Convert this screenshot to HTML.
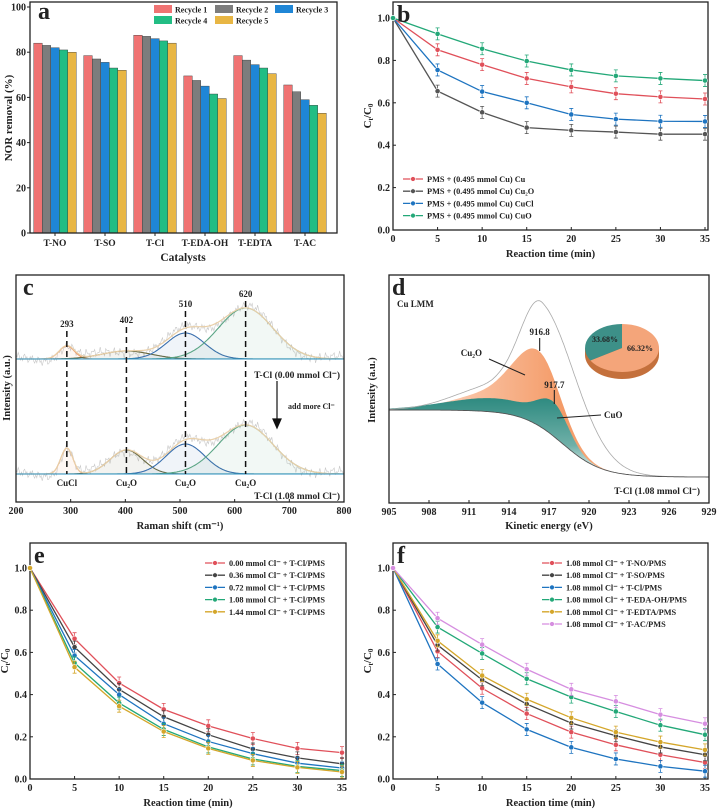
<!DOCTYPE html>
<html><head><meta charset="utf-8">
<style>
html,body{margin:0;padding:0;background:#fff;}
svg{display:block;font-family:"Liberation Serif",serif;font-weight:bold;}
</style></head>
<body>
<svg id="fig" width="717" height="811" viewBox="0 0 717 811" xmlns="http://www.w3.org/2000/svg">
<defs>
<linearGradient id="gOr" x1="0" y1="0" x2="1" y2="0">
<stop offset="0" stop-color="#fde3d5"/><stop offset="0.55" stop-color="#f49a66"/><stop offset="0.75" stop-color="#f7b890"/><stop offset="1" stop-color="#ffffff"/></linearGradient>
<linearGradient id="gTe" x1="0" y1="0" x2="0" y2="1">
<stop offset="0" stop-color="#2e8a80"/><stop offset="0.6" stop-color="#6fb0a8"/><stop offset="1" stop-color="#ffffff"/></linearGradient>
</defs>
</svg>
<script>
const NS="http://www.w3.org/2000/svg";
const svg=document.getElementById('fig');
function mk(tag,attrs,parent){const e=document.createElementNS(NS,tag);for(const k in attrs)e.setAttribute(k,attrs[k]);(parent||svg).appendChild(e);return e;}
function txt(x,y,s,size,anchor,name,extra){const t=mk('text',Object.assign({x:x,y:y,'font-size':size,'text-anchor':anchor||'middle',fill:'#222'},extra||{}));t.textContent=s;


return t;}

/* ===== Panel a data ===== */
const aCategories=["T-NO","T-SO","T-Cl","T-EDA-OH","T-EDTA","T-AC"];
const aSeriesNames=["Recycle 1","Recycle 2","Recycle 3","Recycle 4","Recycle 5"];
const aRecycle1=[84,78.5,87.5,69.5,78.5,65.5];
const aRecycle2=[83,77,87,67.5,76.5,62.5];
const aRecycle3=[82,75.5,86,65,74.5,59];
const aRecycle4=[81,73,85,61.5,73,56.5];
const aRecycle5=[80,72,84,59.5,70.5,53];
const aTicks=[0,20,40,60,80,100];

/* ===== Panel b data ===== */
const times=[0,5,10,15,20,25,30,35];
const bNames=["PMS + (0.495 mmol Cu) Cu","PMS + (0.495 mmol Cu) Cu\u2082O","PMS + (0.495 mmol Cu) CuCl","PMS + (0.495 mmol Cu) CuO"];
const bCu=[1,0.85,0.78,0.715,0.675,0.643,0.628,0.618];
const bCu2O=[1,0.655,0.555,0.483,0.47,0.462,0.452,0.452];
const bCuCl=[1,0.755,0.653,0.6,0.545,0.523,0.513,0.512];
const bCuO=[1,0.925,0.855,0.797,0.755,0.727,0.715,0.705];
const cTicks=[0,0.2,0.4,0.6,0.8,1.0];
const tTicks=[0,5,10,15,20,25,30,35];

/* ===== Panel e data ===== */
const eNames=["0.00 mmol Cl\u207B + T-Cl/PMS","0.36 mmol Cl\u207B + T-Cl/PMS","0.72 mmol Cl\u207B + T-Cl/PMS","1.08 mmol Cl\u207B + T-Cl/PMS","1.44 mmol Cl\u207B + T-Cl/PMS"];
const e000=[1,0.665,0.455,0.33,0.252,0.192,0.145,0.125];
const e036=[1,0.625,0.425,0.295,0.21,0.142,0.1,0.072];
const e072=[1,0.585,0.4,0.262,0.178,0.12,0.075,0.052];
const e108=[1,0.55,0.36,0.235,0.152,0.095,0.06,0.04];
const e144=[1,0.53,0.345,0.225,0.145,0.088,0.055,0.033];

/* ===== Panel f data ===== */
const fNames=["1.08 mmol Cl\u207B + T-NO/PMS","1.08 mmol Cl\u207B + T-SO/PMS","1.08 mmol Cl\u207B + T-Cl/PMS","1.08 mmol Cl\u207B + T-EDA-OH/PMS","1.08 mmol Cl\u207B + T-EDTA/PMS","1.08 mmol Cl\u207B + T-AC/PMS"];
const fNO=[1,0.605,0.43,0.31,0.222,0.162,0.115,0.078];
const fSO=[1,0.635,0.47,0.355,0.265,0.205,0.152,0.115];
const fCl=[1,0.545,0.362,0.235,0.15,0.095,0.06,0.037];
const fEDA=[1,0.72,0.595,0.475,0.388,0.32,0.255,0.21];
const fEDTA=[1,0.655,0.49,0.378,0.29,0.222,0.175,0.138];
const fAC=[1,0.762,0.637,0.52,0.425,0.368,0.305,0.262];

/* ===== Panel c data (Raman peak fits) ===== */
const cCenters=[293,402,510,620];
const cTopAmps=[13,8,26,51];
const cTopSigmas=[14,45,35,50];
const cBotAmps=[26,24,30,49];
const cBotSigmas=[11,30,35,50];
const ramanTicks=[200,300,400,500,600,700,800];

/* ===== Panel d data ===== */
const dTicks=[905,908,911,914,917,920,923,926,929];
const dPie=[66.32,33.68];

/* ---------- Panel a ---------- */
(function(){
 const g=mk('g',{});
 
 
 const L=30,R=337,T=2,B=233;
 const ya=v=>B-v/100*226;
 const xa=(gi,bi)=>55+50*gi+(bi-2)*8.5;
 const colors=["#f07373","#7d7d7d","#1f86d6","#22bd84","#e8b644"];
 const series=[aRecycle1,aRecycle2,aRecycle3,aRecycle4,aRecycle5];
 series.forEach((s,bi)=>{s.forEach((v,gi)=>{
   const r=mk('rect',{x:xa(gi,bi)-4.25,y:ya(v),width:8.5,height:B-ya(v),fill:colors[bi],stroke:'#333','stroke-width':0.4},g);
   
   
 });});
 const box=mk('rect',{x:L,y:T,width:R-L,height:B-T,fill:'none',stroke:'#222','stroke-width':1.3},g);
 
 
 aTicks.forEach(v=>{mk('line',{x1:L-3,x2:L,y1:ya(v),y2:ya(v),stroke:'#222'},g);txt(L-4,ya(v)+3.5,String(v),10,'end','y-tick-a-'+v);});
 aCategories.forEach((c,gi)=>{mk('line',{x1:55+50*gi,x2:55+50*gi,y1:B,y2:B+3,stroke:'#222'},g);txt(55+50*gi,B+13,c,9.5,'middle','x-tick-a-'+c.toLowerCase());});
 txt(183,261,'Catalysts',11.5,'middle','x-axis-title-a');
 txt(12,118,'NOR removal (%)',11,'middle','y-axis-title-a',{transform:'rotate(-90 12 118)'});
 txt(38,19,'a',24,'start','panel-label-a');
 const lp=[[154,5],[215,5],[275,5],[154,16],[215,16]];
 aSeriesNames.forEach((n,i)=>{const r=mk('rect',{x:lp[i][0],y:lp[i][1],width:18,height:8,fill:colors[i]},g);
   
   
   txt(lp[i][0]+21,lp[i][1]+7.5,n,8,'start','legend-entry-recycle-'+(i+1));});
})();

/* ---------- line chart helper ---------- */
function lineChart(o){
 const {L,R,T,B,x35,y1,series,colors,names,label,legX,legY,legStep,id}=o;
 const g=mk('g',{});
 
 
 const xs=t=>L+t/35*(x35-L);
 const ys=v=>B-v*(B-y1);
 const box=mk('rect',{x:L,y:T,width:R-L,height:B-T,fill:'none',stroke:'#222','stroke-width':1.3},g);
 
 
 cTicks.forEach(v=>{mk('line',{x1:L,x2:L+3,y1:ys(v),y2:ys(v),stroke:'#222'},g);txt(L-3,ys(v)+3.5,v.toFixed(1),10,'end','y-tick-'+id+'-'+v);});
 tTicks.forEach(v=>{mk('line',{x1:xs(v),x2:xs(v),y1:B,y2:B-3,stroke:'#222'},g);txt(xs(v),B+12,String(v),10,'middle','x-tick-'+id+'-'+v);});
 txt((L+R)/2,B+27,'Reaction time (min)',10.5,'middle','x-axis-title-'+id);
 const yt=txt(L-22,(T+B)/2,'C',11,'middle','y-axis-title-'+id,{transform:'rotate(-90 '+(L-22)+' '+((T+B)/2)+')'});
 yt.innerHTML='C<tspan font-size="7" dy="2">t</tspan><tspan dy="-2">/C</tspan><tspan font-size="7" dy="2">0</tspan>';
 series.forEach((s,si)=>{
   const c=colors[si];
   const pts=s.map((v,i)=>xs(times[i])+','+ys(v)).join(' ');
   const pl=mk('polyline',{points:pts,fill:'none',stroke:c,'stroke-width':1.3},g);
   
   
   s.forEach((v,i)=>{
     if(i>0){const eb=mk('path',{d:`M${xs(times[i])} ${ys(v)-6}V${ys(v)+6}M${xs(times[i])-2} ${ys(v)-6}h4M${xs(times[i])-2} ${ys(v)+6}h4`,stroke:c,'stroke-width':0.8,fill:'none'},g);
       
       }
     const p=mk('circle',{cx:xs(times[i]),cy:ys(v),r:2.6,fill:c,stroke:'#fff','stroke-width':0.6},g);
     
     
   });
   const ly=legY+si*legStep;
   const ll=mk('line',{x1:legX,x2:legX+20,y1:ly,y2:ly,stroke:c,'stroke-width':1.3},g);
   
   
   const lc=mk('circle',{cx:legX+10,cy:ly,r:2.4,fill:c,stroke:'#fff','stroke-width':0.6},g);
   
   
   txt(legX+24,ly+3,names[si],8.3,'start','legend-entry-'+id+'-'+(si+1));
 });
 txt(L+4,T+20,label,24,'start','panel-label-'+id);
}
lineChart({id:'b',L:393,R:708,T:2,B:230,x35:705,y1:18,series:[bCu,bCu2O,bCuCl,bCuO],colors:["#e0505a","#555","#1e74c0","#23a878"],names:bNames,label:'b',legX:403,legY:179,legStep:12.2});
lineChart({id:'e',L:30,R:346,T:543,B:779,x35:342,y1:568,series:[e000,e036,e072,e108,e144],colors:["#e0505a","#444","#1e74c0","#23a878","#d4a62a"],names:eNames,label:'e',legX:205,legY:563,legStep:12.2});
lineChart({id:'f',L:393,R:708,T:543,B:779,x35:705,y1:568,series:[fNO,fSO,fCl,fEDA,fEDTA,fAC],colors:["#e0505a","#444","#1e74c0","#23a878","#d4a62a","#d68ee0"],names:fNames,label:'f',legX:542,legY:563,legStep:12.2});

/* ---------- Panel c ---------- */
(function(){
 const g=mk('g',{});
 
 
 const L=16,R=344,T=275,B=502;
 const xc=v=>L+(v-200)*(R-L)/600;
 const colors=["#ee9966","#6a6a40","#3a6fae","#5aa585"];
 const gauss=(v,c,a,s)=>a*Math.exp(-(v-c)*(v-c)/(2*s*s));
 function block(base,amps,sig,tag){
   const vs=[];for(let v=200;v<=800;v+=2)vs.push(v);
   let noise='',sum='';
   vs.forEach((v,i)=>{let s=0;cCenters.forEach((c,k)=>s+=gauss(v,c,amps[k],sig[k]));
     const j=5*Math.sin(v*1.93)*Math.cos(v*0.71)+3*Math.sin(v*3.1);
     noise+=(i?'L':'M')+xc(v).toFixed(1)+' '+(base-s+j).toFixed(1);
     sum+=(i?'L':'M')+xc(v).toFixed(1)+' '+(base-s).toFixed(1);});
   const n=mk('path',{d:noise,fill:'none',stroke:'#c8c8c8','stroke-width':0.6},g);
   
   
   cCenters.forEach((c,k)=>{let d='';vs.forEach((v,i)=>{d+=(i?'L':'M')+xc(v).toFixed(1)+' '+(base-gauss(v,c,amps[k],sig[k])).toFixed(1);});
     const f=mk('path',{d:d+'Z',fill:colors[k],'fill-opacity':0.08,stroke:colors[k],'stroke-width':1.1},g);
     
     });
   const su=mk('path',{d:sum,fill:'none',stroke:'#e9cfa8','stroke-width':1.2},g);
   
   
   const bl=mk('line',{x1:L,x2:R,y1:base,y2:base,stroke:'#2b8fbf','stroke-width':1},g);
   
   
 }
 block(359,cTopAmps,cTopSigmas,'top');
 block(474,cBotAmps,cBotSigmas,'bottom');
 const lblY=[327,323,307,297];
 cCenters.forEach((c,k)=>{const l=mk('line',{x1:xc(c),x2:xc(c),y1:lblY[k]+4,y2:474,stroke:'#111','stroke-width':1.5,'stroke-dasharray':'6,4'},g);
   
   
   txt(xc(c),lblY[k],String(c),9,'middle','peak-label-'+c);});
 const bl=['CuCl','Cu\u2082O','Cu\u2082O','Cu\u2082O'];
 cCenters.forEach((c,k)=>txt(xc(c),486,bl[k],9,'middle','phase-label-'+c));
 const box=mk('rect',{x:L,y:T,width:R-L,height:B-T,fill:'none',stroke:'#222','stroke-width':1.3},g);
 
 
 ramanTicks.forEach(v=>{mk('line',{x1:xc(v),x2:xc(v),y1:B,y2:B-3,stroke:'#222'},g);txt(xc(v),B+12,String(v),10,'middle','x-tick-c-'+v);});
 txt(180,529,'Raman shift (cm\u207B\u00B9)',10.5,'middle','x-axis-title-c');
 txt(10,388,'Intensity (a.u.)',10.5,'middle','y-axis-title-c',{transform:'rotate(-90 10 388)'});
 txt(23,295,'c',24,'start','panel-label-c');
 txt(340,378,'T-Cl (0.00 mmol Cl\u207B)',9.5,'end','sample-label-0');
 txt(340,499,'T-Cl (1.08 mmol Cl\u207B)',9.5,'end','sample-label-108');
 txt(288,409,'add more Cl\u207B',8,'start','annotation-add-cl');
 const ar=mk('path',{d:'M277 381V425M273 419L277 428L281 419Z',stroke:'#111','stroke-width':1.2,fill:'#111'},g);
 
 
})();

/* ---------- Panel d ---------- */
(function(){
 const g=mk('g',{});
 
 
 const L=389,R=709,T=275,B=503;
 const xd=e=>L+(e-905)*(R-L)/24;
 const bg=e=>410+67/(1+Math.exp(-(e-918)/1.5));
 const ag=(e,c,a,sl,sr)=>{const s=e<c?sl:sr;return a*Math.exp(-(e-c)*(e-c)/(2*s*s));};
 const env=e=>bg(e)-ag(e,916.5,120,1.6,2.6)-ag(e,913,25,3,2);
 const or=e=>bg(e)-ag(e,916.3,70,1.8,1.6)-ag(e,913,18,3,2);
 const te=e=>bg(e)-ag(e,917.4,30,1.2,1.1)-ag(e,913.5,14,4,2.5);
 const Es=[];for(let e=905;e<=929.001;e+=0.1)Es.push(e);
 function area(f,fill,name){let d='';Es.forEach((e,i)=>d+=(i?'L':'M')+xd(e).toFixed(1)+' '+f(e).toFixed(1));
   for(let i=Es.length-1;i>=0;i--)d+='L'+xd(Es[i]).toFixed(1)+' '+bg(Es[i]).toFixed(1);
   const p=mk('path',{d:d+'Z',fill:fill,stroke:'none'},g);
   
   }
 area(or,'url(#gOr)','area-cu2o');
 area(te,'url(#gTe)','area-cuo');
 function line(f,st,w,name){let d='';Es.forEach((e,i)=>d+=(i?'L':'M')+xd(e).toFixed(1)+' '+f(e).toFixed(1));
   const p=mk('path',{d:d,fill:'none',stroke:st,'stroke-width':w},g);
   
   }
 line(env,'#aaa',0.8,'envelope-line');
 line(bg,'#555',0.9,'background-line');
 mk('path',{d:`M${xd(916.3)} 338V351M${xd(917.4)} 390V404M489 359L525 375M557 418L601 415`,stroke:'#222','stroke-width':1.1},g);
 txt(xd(916.3),335,'916.8',9,'middle','peak-label-916-8');
 txt(xd(917.4),388,'917.7',9,'middle','peak-label-917-7');
 txt(482,356,'Cu\u2082O',9,'end','label-cu2o');
 txt(604,418,'CuO',9,'start','label-cuo');
 txt(397,307,'Cu LMM',9,'start','label-cu-lmm');
 txt(700,494,'T-Cl (1.08 mmol Cl\u207B)',9.5,'end','sample-label-d');
 // pie
 const cx=622,cy=348,rx=37,ry=24,th=7;
 const sl=mk('path',{d:`M${cx-rx} ${cy}v${th}a${rx} ${ry} 0 0 0 ${2*rx} 0v${-th}Z`,fill:'#c4703c'},g);
 
 
 const a0=-Math.PI/2, a1=a0+dPie[0]/100*2*Math.PI;
 const px=a=>cx+rx*Math.cos(a), py=a=>cy+ry*Math.sin(a);
 const s1=mk('path',{d:`M${cx} ${cy}L${px(a0)} ${py(a0)}A${rx} ${ry} 0 1 1 ${px(a1)} ${py(a1)}Z`,fill:'#f4a57a'},g);
 
 
 const s2=mk('path',{d:`M${cx} ${cy}L${px(a1)} ${py(a1)}A${rx} ${ry} 0 0 1 ${px(a0)} ${py(a0)}Z`,fill:'#3d9088'},g);
 
 
 txt(cx+18,cy+3,dPie[0].toFixed(2)+'%',8,'middle','pie-label-cu2o');
 txt(cx-17,cy-6,dPie[1].toFixed(2)+'%',8,'middle','pie-label-cuo');
 const box=mk('rect',{x:L,y:T,width:R-L,height:B-T,fill:'none',stroke:'#222','stroke-width':1.3},g);
 
 
 dTicks.forEach(v=>{mk('line',{x1:xd(v),x2:xd(v),y1:B,y2:B-3,stroke:'#222'},g);txt(xd(v),B+12,String(v),10,'middle','x-tick-d-'+v);});
 txt(549,529,'Kinetic energy (eV)',10.5,'middle','x-axis-title-d');
 txt(375,390,'Intensity (a.u.)',10.5,'middle','y-axis-title-d',{transform:'rotate(-90 375 390)'});
 txt(392,295,'d',24,'start','panel-label-d');
})();
</script>
</body></html>
